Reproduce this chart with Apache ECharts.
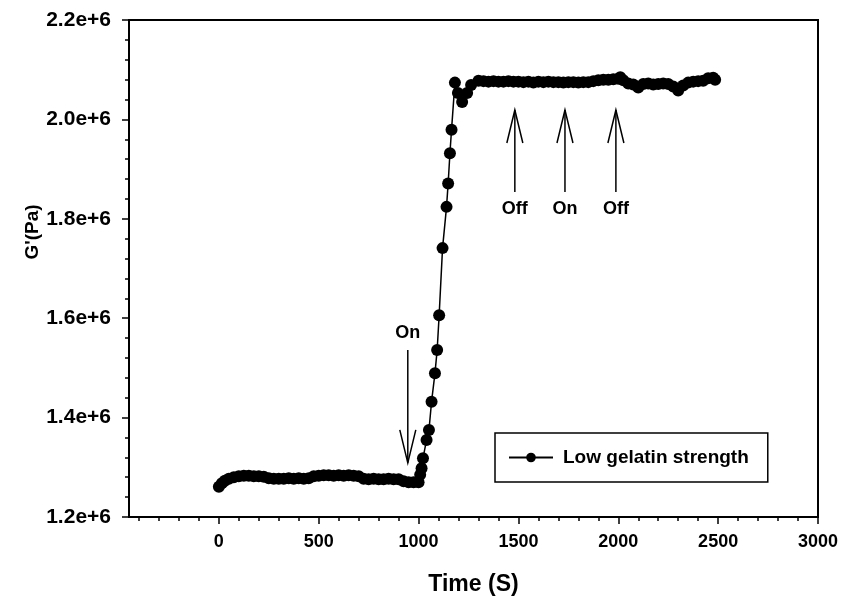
<!DOCTYPE html>
<html>
<head>
<meta charset="utf-8">
<script src="https://cdn.jsdelivr.net/npm/echarts@6/dist/echarts.min.js"></script>
<style>html,body{margin:0;padding:0;background:#fff}#c{width:846px;height:599px}</style>
</head>
<body>
<div id="c"></div>
<script>
// ---- data ----
const seriesName = 'Low gelatin strength';
const timeS = [
  0, 15, 30, 50, 75, 100, 125, 150, 175, 200, 225, 250, 275, 300, 325, 350, 375, 400, 425, 450,
  475, 500, 525, 550, 575, 600, 625, 650, 675, 700, 725, 750, 775, 800, 825, 850, 875, 900, 925, 950,
  975, 1000,
  1008, 1015, 1022, 1040, 1052, 1065, 1082, 1093, 1103, 1120, 1140, 1148, 1157, 1165,
  1182, 1197, 1218, 1243, 1263,
  1300, 1325, 1350, 1375, 1400, 1425, 1450, 1475, 1500, 1525, 1550, 1575, 1600, 1625, 1650, 1675,
  1700, 1725, 1750, 1775, 1800, 1825, 1850, 1875, 1900, 1925, 1950, 1975, 2000, 2010, 2025, 2050,
  2075, 2100, 2125, 2150, 2175, 2200, 2225, 2250, 2275, 2300, 2325, 2350, 2375, 2400, 2425, 2450,
  2475, 2485
];
const gPrime = [
  1261000, 1268000, 1273000, 1277000, 1280000, 1282000, 1283000, 1283000, 1282000, 1282000, 1281000, 1278000, 1277000, 1277000, 1277000, 1278000, 1277000, 1278000, 1277000, 1278000,
  1282000, 1283000, 1284000, 1284000, 1283000, 1284000, 1283000, 1284000, 1283000, 1282000, 1277000, 1276000, 1277000, 1276000, 1276000, 1277000, 1276000, 1276000, 1272000, 1270000,
  1270000, 1270000,
  1285000, 1298000, 1318000, 1355000, 1375000, 1432000, 1489000, 1536000, 1606000, 1741000, 1824000, 1871000, 1932000, 1979000,
  2074000, 2053000, 2035000, 2053000, 2069000,
  2078000, 2077000, 2076000, 2077000, 2076000, 2076000, 2077000, 2076000, 2076000, 2075000, 2076000, 2074000, 2076000, 2075000, 2076000, 2075000,
  2075000, 2074000, 2075000, 2075000, 2074000, 2075000, 2075000, 2077000, 2079000, 2080000, 2080000, 2081000, 2082000, 2085000, 2079000, 2072000,
  2070000, 2064000, 2071000, 2072000, 2070000, 2071000, 2072000, 2071000, 2066000, 2058000, 2068000, 2074000, 2076000, 2077000, 2078000, 2083000,
  2084000, 2080000
];
// annotation arrows: time, tip value, tail value, label
const annTime = [946, 1482, 1733, 1988];
const annTip = [1309000, 2019000, 2019000, 2019000];
const annTail = [1536000, 1854000, 1854000, 1854000];
const annLabel = ['On', 'Off', 'On', 'Off'];
// axis ticks
const xMajorTicks = [0, 500, 1000, 1500, 2000, 2500, 3000];
const xMinorTicks = [-400, -300, -200, -100, 100, 200, 300, 400, 600, 700, 800, 900, 1100, 1200, 1300, 1400,
  1600, 1700, 1800, 1900, 2100, 2200, 2300, 2400, 2600, 2700, 2800, 2900];

const FONT = '"Liberation Sans", Arial, Helvetica, sans-serif';
const chart = echarts.init(document.getElementById('c'), null, {renderer: 'canvas'});

const lineData = timeS.map((t, i) => [t, gPrime[i]]);
const annData = annTime.map((t, i) => [t, annTip[i], annTail[i]]);

chart.setOption({
  animation: false,
  backgroundColor: '#fff',
  grid: {left: 129, right: 28, top: 20, bottom: 82, show: true, borderColor: '#000', borderWidth: 2,
    containLabel: false, outerBoundsMode: 'none'},
  legend: {
    data: [seriesName],
    left: 495, top: 433,
    orient: 'horizontal',
    borderColor: '#000', borderWidth: 1.5, borderRadius: 0,
    padding: [15, 19, 15, 13],
    itemWidth: 44, itemHeight: 12,
    textStyle: {fontFamily: FONT, fontWeight: 'bold', fontSize: 19, color: '#000', padding: [0, 0, 0, 5]}
  },
  xAxis: [{
    type: 'value', min: -450, max: 3000,
    name: 'Time (S)', nameLocation: 'middle', nameGap: 56, nameMoveOverlap: false,
    nameTextStyle: {fontFamily: FONT, fontWeight: 'bold', fontSize: 23, color: '#000'},
    axisLine: {show: true, onZero: false, lineStyle: {color: '#000', width: 2}},
    axisTick: {show: true, inside: false, length: 7, lineStyle: {color: '#000', width: 1.5}, customValues: xMajorTicks},
    axisLabel: {show: true, margin: 16, fontFamily: FONT, fontWeight: 'bold', fontSize: 18, color: '#000',
      customValues: xMajorTicks, formatter: v => String(v)},
    splitLine: {show: false}
  }, {
    type: 'value', min: -450, max: 3000, position: 'bottom',
    axisLine: {show: false, onZero: false},
    axisTick: {show: true, inside: false, length: 4, lineStyle: {color: '#000', width: 1.5}, customValues: xMinorTicks},
    axisLabel: {show: false},
    splitLine: {show: false}
  }],
  yAxis: {
    type: 'value', min: 1200000, max: 2200000, interval: 200000,
    name: "G'(Pa)", nameLocation: 'middle', nameGap: 87, nameRotate: 90, nameMoveOverlap: false,
    nameTextStyle: {fontFamily: FONT, fontWeight: 'bold', fontSize: 19, color: '#000', padding: [0, 0, 0, 73]},
    axisLine: {show: true, onZero: false, lineStyle: {color: '#000', width: 2}},
    axisTick: {show: true, inside: false, length: 7, lineStyle: {color: '#000', width: 1.5}},
    minorTick: {show: true, splitNumber: 5, length: 4, lineStyle: {color: '#000', width: 1.5}},
    axisLabel: {margin: 18, fontFamily: FONT, fontWeight: 'bold', fontSize: 21, color: '#000',
      formatter: v => (v / 1e6).toFixed(1) + 'e+6'},
    splitLine: {show: false}
  },
  series: [{
    name: seriesName, type: 'line', data: lineData,
    symbol: 'circle', symbolSize: 12, showSymbol: true,
    itemStyle: {color: '#000'},
    lineStyle: {color: '#000', width: 1.5},
    z: 3
  }, {
    name: 'annotations', type: 'custom', data: annData, clip: false,
    encode: {x: 0, y: [1, 2]},
    renderItem: function (params, api) {
      const tip = api.coord([api.value(0), api.value(1)]);
      const tail = api.coord([api.value(0), api.value(2)]);
      const dir = tail[1] > tip[1] ? 1 : -1;
      const headLen = 33, headHalf = 8;
      const label = annLabel[params.dataIndex];
      const labelY = dir === 1 ? tail[1] + 17 : tail[1] - 17;
      return {
        type: 'group',
        children: [
          {type: 'line', shape: {x1: tip[0], y1: tip[1], x2: tail[0], y2: tail[1]}, style: {stroke: '#000', lineWidth: 1.5}},
          {type: 'polyline', shape: {points: [[tip[0] - headHalf, tip[1] + dir * headLen], [tip[0], tip[1]], [tip[0] + headHalf, tip[1] + dir * headLen]]},
            style: {stroke: '#000', lineWidth: 1.5, fill: null}},
          {type: 'text', style: {text: label, x: tip[0], y: labelY, align: 'center', verticalAlign: 'middle',
            fontFamily: FONT, fontWeight: 'bold', fontSize: 18, fill: '#000'}}
        ]
      };
    },
    z: 4
  }]
});
</script>
</body>
</html>
